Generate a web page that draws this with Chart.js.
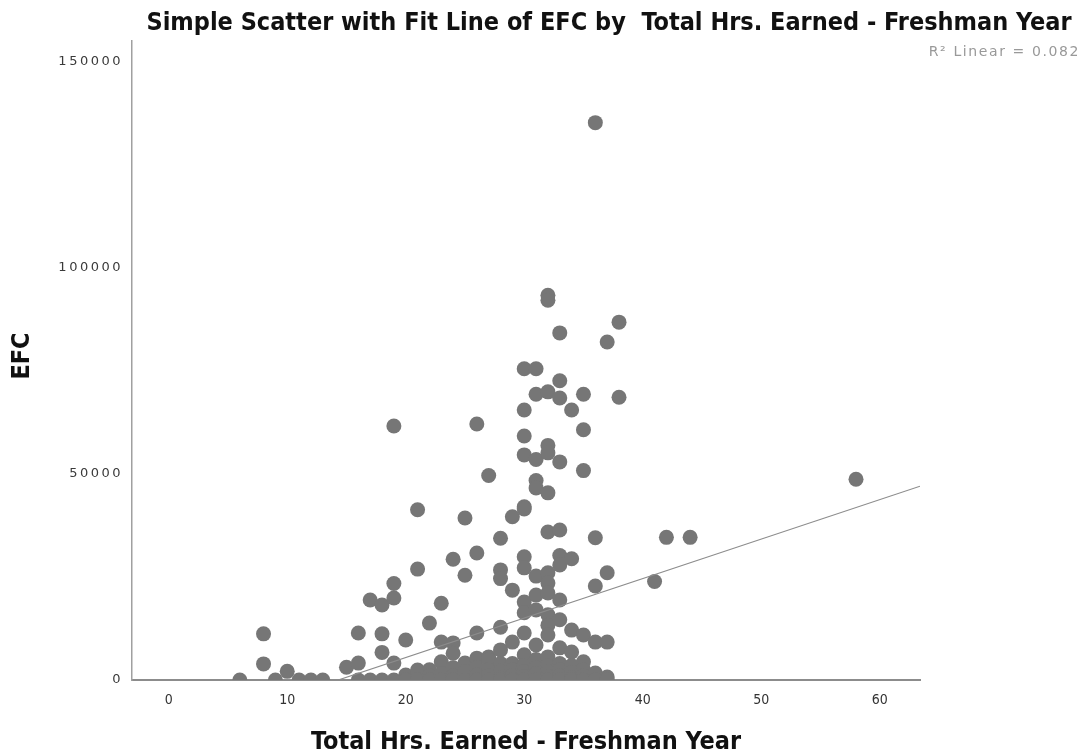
<!DOCTYPE html>
<html>
<head>
<meta charset="utf-8">
<script src="https://cdn.jsdelivr.net/npm/chart.js@4.4.1/dist/chart.umd.min.js"></script>
<style>
  body { margin: 0; background: #fff; }
  canvas { display: block; }
</style>
</head>
<body>
<canvas id="efcChart" width="1082" height="755"></canvas>
<script>
// Scatter data: hours earned freshman year vs EFC
const hrs = [
  6, 8, 8, 9, 10, 11, 12, 13, 15,
  16, 16, 16, 17, 17, 18, 18, 18, 18,
  19, 19, 19, 19, 19, 20, 20, 20,
  21, 21, 21, 21, 22, 22, 22, 22,
  23, 23, 23, 23, 23, 24, 24, 24, 24, 24, 24,
  25, 25, 25, 25, 25, 26, 26, 26, 26, 26, 26, 26,
  27, 27, 27, 27, 27, 27,
  28, 28, 28, 28, 28, 28, 28, 28, 28,
  29, 29, 29, 29, 29, 29, 29,
  30, 30, 30, 30, 30, 30, 30, 30, 30, 30, 30, 30, 30, 30, 30, 30,
  31, 31, 31, 31, 31, 31, 31, 31, 31, 31, 31, 31, 31,
  32, 32, 32, 32, 32, 32, 32, 32, 32, 32, 32, 32, 32, 32, 32, 32, 32, 32,
  33, 33, 33, 33, 33, 33, 33, 33, 33, 33, 33, 33, 33, 33,
  34, 34, 34, 34, 34, 34, 34, 34,
  35, 35, 35, 35, 35, 35, 35, 35,
  36, 36, 36, 36, 36, 36,
  37, 37, 37, 37, 37,
  38, 38, 41, 42, 44, 58
];
const efc = [
  0, 11200, 3900, 0, 2100, 0, 0, 0, 3100,
  11400, 4100, 0, 19400, 0, 18200, 11200, 6700, 0,
  61600, 23400, 19900, 4100, 0, 9700, 1200, 0,
  41300, 26900, 2400, 0, 13800, 2500, 1000, 0,
  18600, 9200, 4400, 1500, 0, 29300, 9000, 6500, 3000, 1000, 0,
  39300, 25400, 4100, 2000, 0, 62100, 30800, 11400, 5300, 3000, 1200, 0,
  49600, 5600, 4900, 2500, 1000, 0,
  34400, 26700, 24600, 12800, 7300, 4000, 2200, 500, 0,
  39600, 21800, 9200, 4000, 2500, 1000, 0,
  75500, 65500, 59200, 54600, 42000, 41500, 29900, 27200, 18900, 16300, 11400, 6100, 3500, 2000, 800, 0,
  75500, 69300, 53500, 48400, 46600, 25200, 20600, 17000, 8500, 5000, 3000, 1500, 0,
  93300, 92100, 69900, 56900, 55100, 45400, 35900, 26000, 23500, 21100, 15800, 13300, 10900, 5600, 3500, 2000, 800, 0,
  84200, 72600, 68400, 52900, 36400, 30200, 27900, 19400, 14600, 7800, 4000, 2500, 1000, 0,
  65500, 29400, 12100, 6800, 3500, 1800, 500, 0,
  69300, 60700, 50800, 10900, 4400, 2500, 1000, 0,
  135200, 34500, 22800, 9200, 1700, 0,
  82000, 26000, 9200, 700, 0,
  86800, 68600, 23900, 34600, 34600, 48700
];

// linear fit line, two ends
const fitHrs = [14.3, 63.4];
const fitEfc = [0, 47000];

const xTicks = [0, 10, 20, 30, 40, 50, 60];
const yTicks = [0, 50000, 100000, 150000];

const titleText = 'Simple Scatter with Fit Line of EFC by  Total Hrs. Earned - Freshman Year';
const r2Text = 'R\u00B2 Linear = 0.082';
const xTitle = 'Total Hrs. Earned - Freshman Year';
const yTitle = 'EFC';

const condensed = "'DejaVu Sans Condensed', 'Liberation Sans Narrow', 'DejaVu Sans', sans-serif";

// text drawn by hand so it can sit where SPSS put it
const textPlugin = {
  id: 'spssText',
  afterDatasetsDraw(chart) {
    // y tick labels come after this (ticks.z = 1) and are widely spaced
    chart.ctx.letterSpacing = '2.5px';
  },
  afterDraw(chart) {
    const ctx = chart.ctx;
    const area = chart.chartArea;
    ctx.save();
    ctx.letterSpacing = '0px';
    ctx.fillStyle = '#111';
    ctx.font = 'bold 25px ' + condensed;
    ctx.textAlign = 'center';
    ctx.textBaseline = 'alphabetic';
    ctx.fillText(titleText, 609, 30);

    ctx.textBaseline = 'middle';
    ctx.fillText(xTitle, (area.left + area.right) / 2, 742);

    ctx.save();
    ctx.translate(22, 356);
    ctx.rotate(-Math.PI / 2);
    ctx.fillText(yTitle, 0, 0);
    ctx.restore();

    ctx.letterSpacing = '1.6px';
    ctx.fillStyle = '#999';
    ctx.font = "14px 'DejaVu Sans', sans-serif";
    ctx.textAlign = 'right';
    ctx.fillText(r2Text, 1080, 52);
    ctx.restore();
  }
};

const ctx = document.getElementById('efcChart').getContext('2d');

new Chart(ctx, {
  type: 'scatter',
  data: {
    datasets: [
      {
        type: 'line',
        data: fitHrs.map((h, i) => ({ x: h, y: fitEfc[i] })),
        borderColor: '#8c8c8c',
        borderWidth: 1.2,
        pointRadius: 0,
        fill: false
      },
      {
        data: hrs.map((h, i) => ({ x: h, y: efc[i] })),
        backgroundColor: '#767676',
        borderWidth: 0,
        pointRadius: 7.5,
        pointHoverRadius: 7.5,
        clip: 0
      }
    ]
  },
  options: {
    responsive: false,
    animation: false,
    layout: { padding: { left: 0, top: 41, right: 162, bottom: 0 } },
    plugins: {
      legend: { display: false },
      tooltip: { enabled: false },
      title: { display: false }
    },
    scales: {
      x: {
        type: 'linear',
        min: -3.1,
        max: 63.4,
        grid: { display: false, drawTicks: false },
        border: { display: true, color: '#8c8c8c', width: 2 },
        afterBuildTicks: s => { s.ticks = xTicks.map(v => ({ value: v })); },
        afterFit: s => { s.height = 75; },
        ticks: {
          padding: 12,
          color: '#333',
          font: { family: condensed, size: 14 },
          callback: v => String(v)
        }
      },
      y: {
        type: 'linear',
        min: 0,
        max: 155000,
        grid: { display: false, drawTicks: false },
        border: { display: true, color: '#a0a0a0', width: 1.5 },
        afterBuildTicks: s => { s.ticks = yTicks.map(v => ({ value: v })); },
        afterFit: s => { s.width = 132; },
        ticks: {
          z: 1,
          padding: 9,
          color: '#3a3a3a',
          font: { family: "'DejaVu Sans', sans-serif", size: 13 },
          callback: v => String(v)
        }
      }
    }
  },
  plugins: [textPlugin]
});
</script>
</body>
</html>
